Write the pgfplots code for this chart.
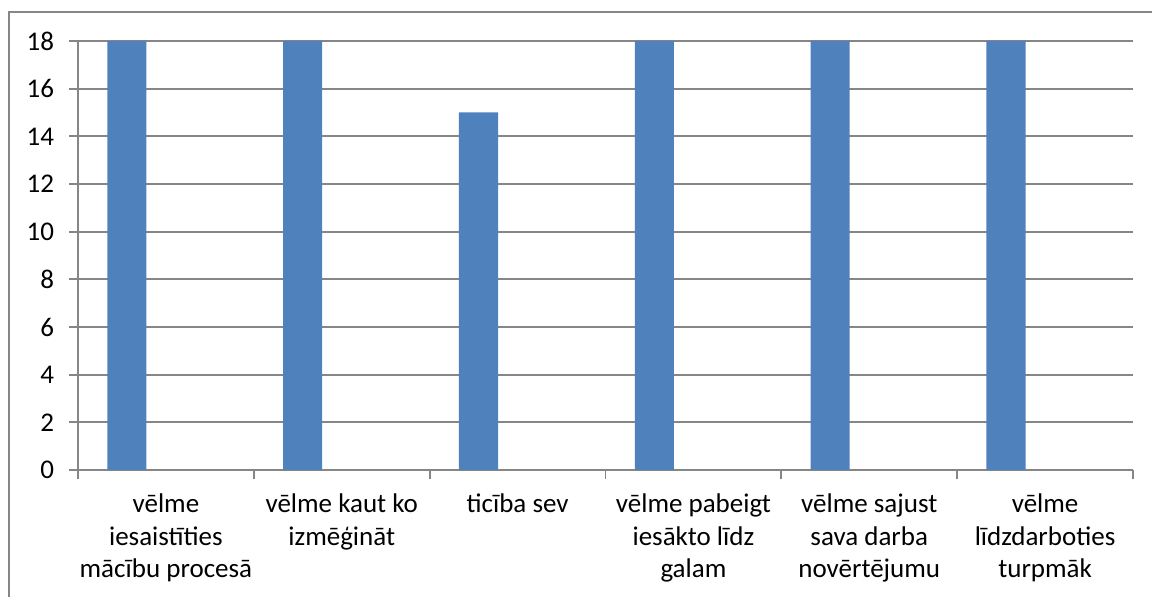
\documentclass[border=0pt]{standalone}
\usepackage{fontspec}
\setmainfont{Carlito}
\usepackage{pgfplots}
\pgfplotsset{compat=1.18}

\definecolor{barblue}{RGB}{79,129,189}
\definecolor{gridgray}{RGB}{134,134,134}

\begin{document}
\begin{tikzpicture}
\path[use as bounding box] (0,0) rectangle (576pt,298.5pt);
% outer chart frame (right and bottom edges are cut off in the reference)
\draw[gridgray, line width=0.8pt] (4.5pt,0pt) -- (4.5pt,292.5pt) -- (576pt,292.5pt);
\begin{axis}[
  at={(39pt,63.5pt)}, anchor=south west,
  scale only axis,
  width=527.5pt, height=214.5pt,
  xmin=-0.5, xmax=5.5,
  ymin=0, ymax=18,
  ytick={0,2,...,18},
  xtick={-0.5,0.5,...,5.5},
  x tick label as interval,
  xticklabels={{vēlme\\iesaistīties\\mācību procesā},
               {vēlme kaut ko\\izmēģināt},
               {ticība sev},
               {vēlme pabeigt\\iesākto līdz\\galam},
               {vēlme sajust\\sava darba\\novērtējumu},
               {vēlme\\līdzdarboties\\turpmāk}},
  axis x line*=bottom, axis y line*=left,
  axis line style={gridgray, line width=0.9pt, -},
  tick align=outside,
  major tick length=4.5pt,
  tick style={gridgray, line width=0.9pt},
  ymajorgrids,
  grid style={gridgray, line width=0.9pt},
  /pgf/number format/assume math mode=true,
  yticklabel style={font=\fontsize{13.5}{16.2}\selectfont, xshift=-4pt},
  xticklabel style={font=\fontsize{13.5}{16.2}\selectfont, align=center, yshift=-4pt},
  ybar, bar width=0.2222, bar shift=-0.2222,
]
\addplot[fill=barblue, draw=none] coordinates {
  (0,18) (1,18) (2,15) (3,18) (4,18) (5,18)
};
\end{axis}
\end{tikzpicture}
\end{document}
